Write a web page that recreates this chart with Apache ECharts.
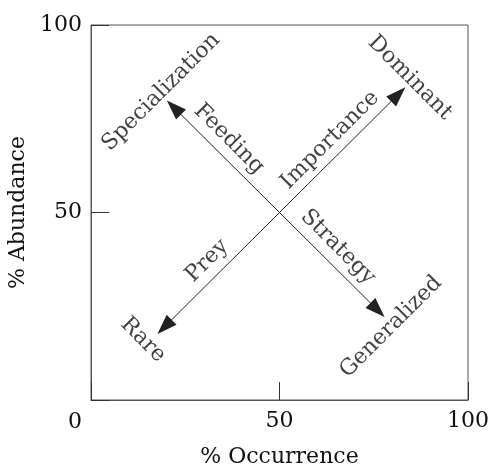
<!DOCTYPE html>
<html><head><meta charset="utf-8">
<script src="https://cdn.jsdelivr.net/npm/echarts@6/dist/echarts.min.js"></script>
<style>html,body{margin:0;padding:0;background:#fff}#c{width:490px;height:467px}</style>
</head><body><div id="c"></div>
<script>
const xTicks = [0, 50, 100];
const yTicks = [0, 50, 100];
// double-headed arrows: [from, to] (centre of each arrowhead)
const importanceArrow = [[19.5, 19.5], [81.5, 81.5]];
const strategyArrow = [[22, 78], [76, 24]];
// text labels: [x, y, text, rotation]
const endLabels = [
  [18.6, 82.1, 'Specialization', 45],
  [84.6, 85.9, 'Dominant', -45],
  [13.8, 16.0, 'Rare', -45],
  [79.6, 19.5, 'Generalized', 45]
];
const axisWords = [
  [36.6, 69.6, 'Feeding', -45],
  [63.4, 69.3, 'Importance', 45],
  [30.8, 37.1, 'Prey', 45],
  [65.5, 40.8, 'Strategy', -45]
];
const FONT = 'DejaVu Serif';
const FS = 22;
const chart = echarts.init(document.getElementById('c'));
const txt = { fontFamily: FONT, fontSize: FS, color: '#111' };
chart.setOption({
  animation: false,
  grid: { left: 91, top: 25, width: 377, height: 375, show: true, borderColor: '#555', borderWidth: 1, outerBoundsMode: 'none', containLabel: false },
  xAxis: {
    type: 'value', min: 0, max: 100, interval: 50,
    name: '% Occurrence', nameLocation: 'middle', nameGap: 46,
    nameTextStyle: txt,
    axisLine: { show: true, lineStyle: { color: '#555', width: 1 } },
    axisTick: { show: true, inside: true, length: 18, lineStyle: { color: '#333' } },
    axisLabel: { ...txt, margin: 10, formatter: v => v === 0 ? '' : String(v), showMaxLabel: true },
    splitLine: { show: false }
  },
  yAxis: {
    type: 'value', min: 0, max: 100, interval: 50,
    name: '% Abundance', nameLocation: 'middle', nameGap: 57, nameRotate: 90,
    nameTextStyle: txt,
    axisLine: { show: true, lineStyle: { color: '#555', width: 1 } },
    axisTick: { show: true, inside: true, length: 18, lineStyle: { color: '#333' } },
    axisLabel: { ...txt, margin: 9, formatter: v => v === 0 ? '' : String(v), showMaxLabel: true },
    splitLine: { show: false }
  },
  graphic: [{ type: 'text', x: 75, y: 422, style: { text: '0', font: FS + 'px "' + FONT + '"', fill: '#111', align: 'center', verticalAlign: 'middle' } }],
  series: [
    {
      type: 'lines', coordinateSystem: 'cartesian2d',
      symbol: ['triangle', 'triangle'], symbolSize: [[14, 20], [14, 20]],
      lineStyle: { color: '#222', width: 1, opacity: 1 },
      itemStyle: { color: '#000' },
      data: [{ coords: importanceArrow }, { coords: strategyArrow }]
    },
    {
      type: 'scatter', symbolSize: 0, silent: true,
      data: endLabels.concat(axisWords).map(d => ({
        value: [d[0], d[1]],
        label: { show: true, position: 'inside', formatter: d[2], rotate: d[3], ...txt }
      }))
    }
  ]
});
</script></body></html>
